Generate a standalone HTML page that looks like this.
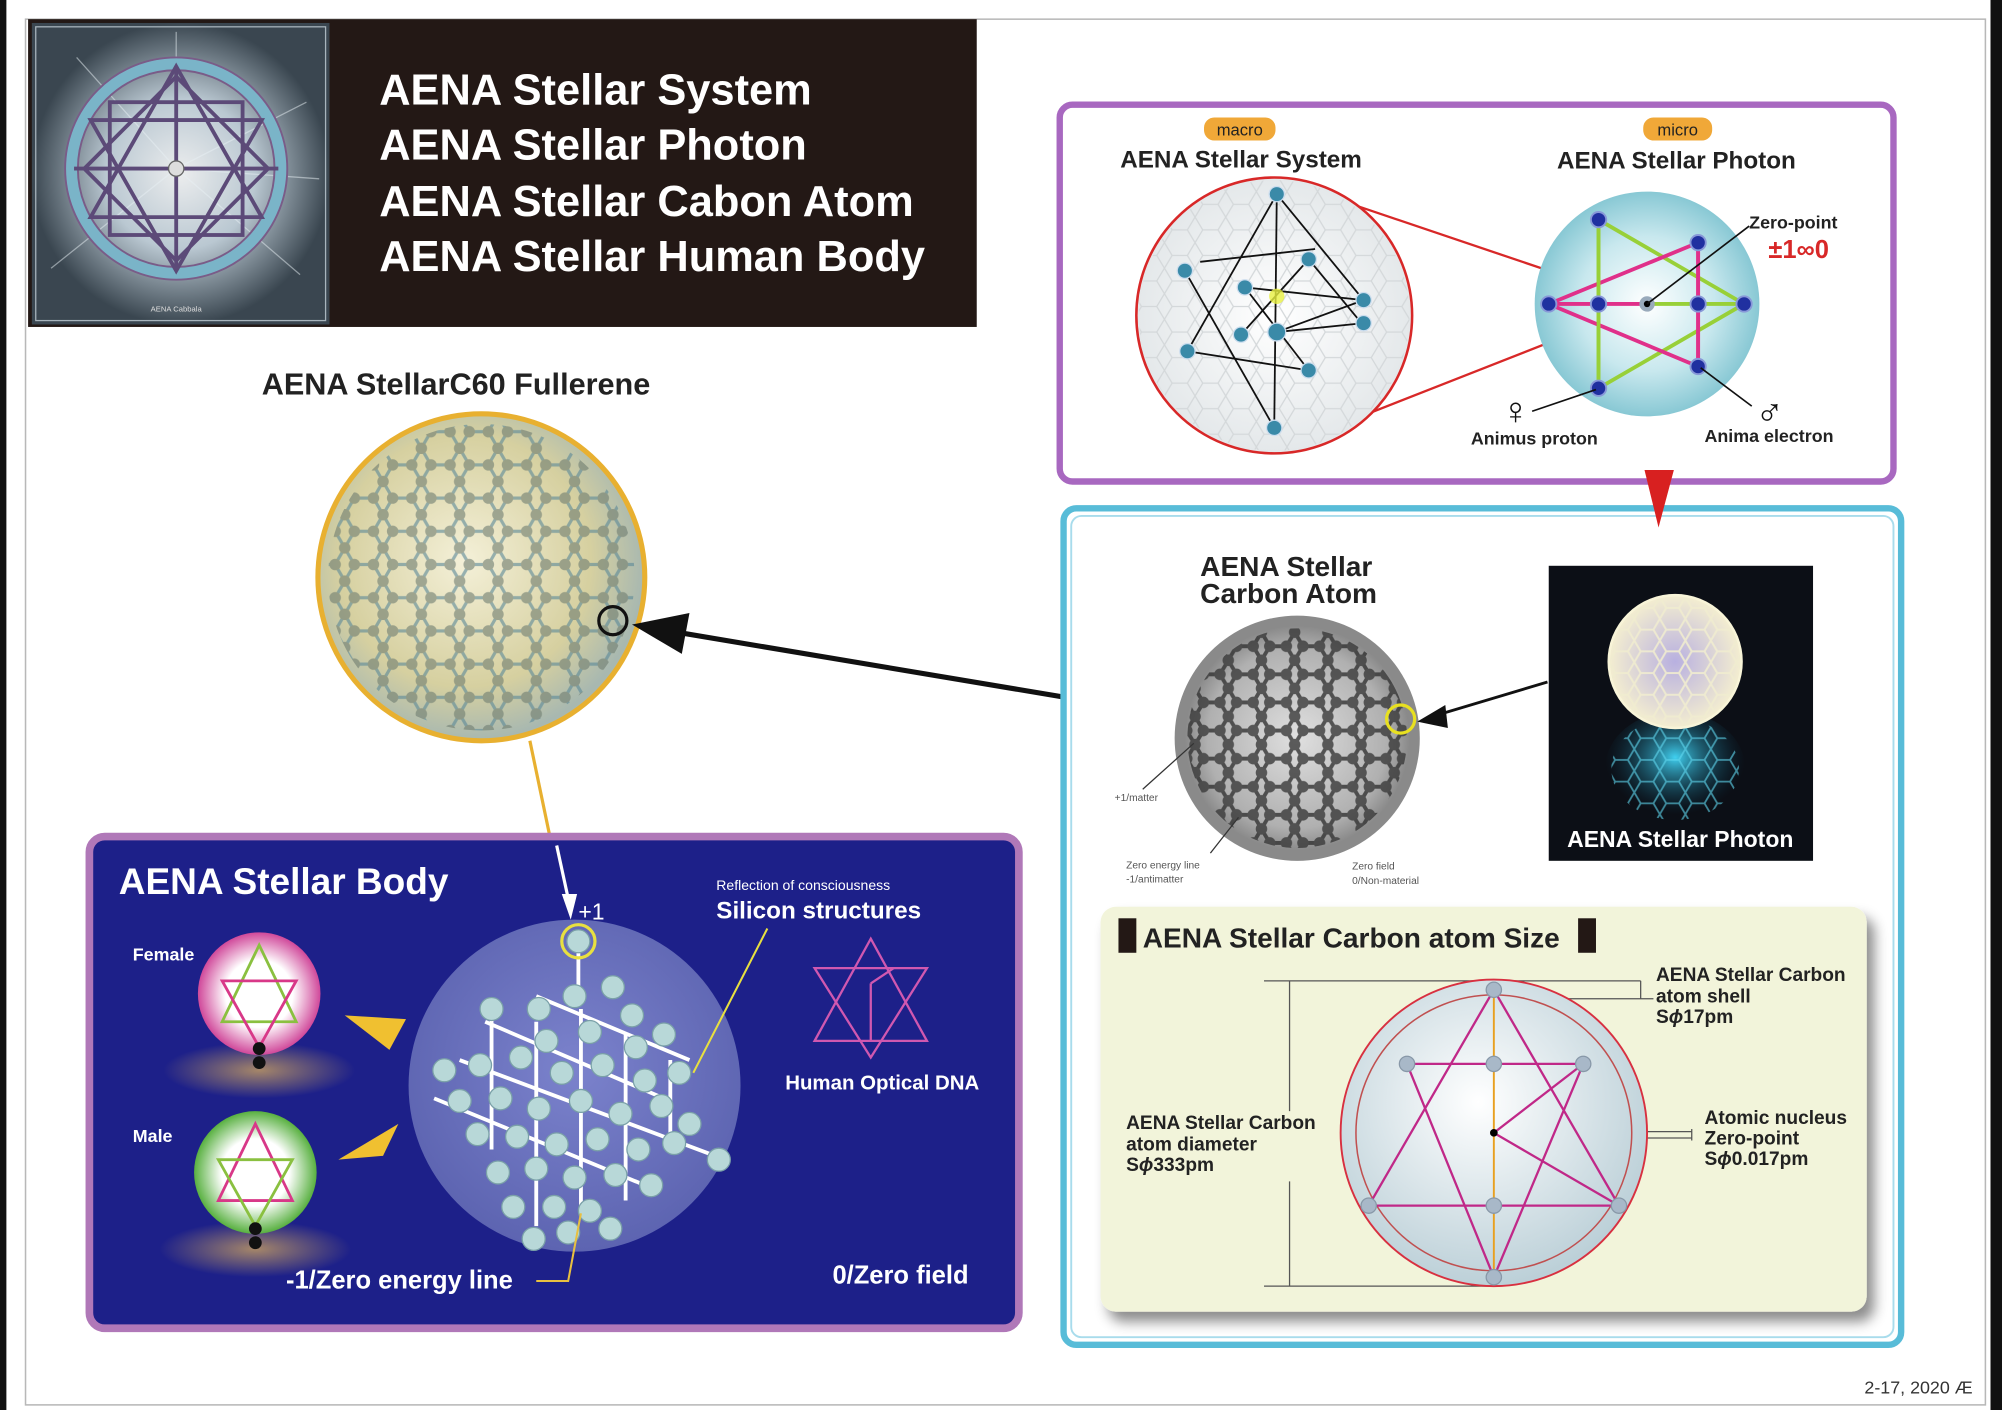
<!DOCTYPE html>
<html><head><meta charset="utf-8"><style>
html,body{margin:0;padding:0;background:#fff;width:2002px;height:1410px;overflow:hidden}
svg{display:block}
text{font-family:"Liberation Sans",sans-serif}
.b{font-weight:bold}
</style></head><body>
<svg width="2002" height="1410" viewBox="0 0 1568 1104" preserveAspectRatio="none" xmlns="http://www.w3.org/2000/svg">
<defs>
<radialGradient id="glow" cx="50%" cy="50%" r="50%"><stop offset="0" stop-color="#ffffff"/><stop offset="0.5" stop-color="#c8d6e0"/><stop offset="1" stop-color="#3a4650"/></radialGradient>
<radialGradient id="full" cx="45%" cy="45%" r="55%"><stop offset="0" stop-color="#f4f0d8"/><stop offset="0.7" stop-color="#d6d0a0"/><stop offset="1" stop-color="#a8b8b0"/></radialGradient>
<radialGradient id="blueSph" cx="50%" cy="45%" r="55%"><stop offset="0" stop-color="#8c94d8"/><stop offset="1" stop-color="#6870b8"/></radialGradient>
<radialGradient id="pink" cx="50%" cy="50%" r="50%"><stop offset="0.55" stop-color="#ffffff"/><stop offset="1" stop-color="#d0489a"/></radialGradient>
<radialGradient id="green" cx="50%" cy="50%" r="50%"><stop offset="0.55" stop-color="#ffffff"/><stop offset="1" stop-color="#58b040"/></radialGradient>
<radialGradient id="shadowG" cx="50%" cy="50%" r="50%"><stop offset="0" stop-color="#c8a060" stop-opacity="0.8"/><stop offset="1" stop-color="#c8a060" stop-opacity="0"/></radialGradient>
<radialGradient id="cyanS" cx="50%" cy="50%" r="50%"><stop offset="0" stop-color="#ffffff"/><stop offset="0.6" stop-color="#c8e8ee"/><stop offset="1" stop-color="#88c8d4"/></radialGradient>
<radialGradient id="sysS" cx="50%" cy="50%" r="50%"><stop offset="0" stop-color="#ffffff"/><stop offset="1" stop-color="#e4e8ea"/></radialGradient>
<radialGradient id="carb" cx="50%" cy="50%" r="50%"><stop offset="0" stop-color="#e0e0e0"/><stop offset="0.8" stop-color="#b0b0b0"/><stop offset="1" stop-color="#8a8a8a"/></radialGradient>
<radialGradient id="sizeS" cx="45%" cy="40%" r="60%"><stop offset="0" stop-color="#ffffff"/><stop offset="1" stop-color="#bcd0d8"/></radialGradient>
<radialGradient id="photoS" cx="50%" cy="50%" r="50%"><stop offset="0" stop-color="#b8b0e0"/><stop offset="1" stop-color="#f4eed0"/></radialGradient>
<radialGradient id="photoR" cx="50%" cy="40%" r="50%"><stop offset="0" stop-color="#40d0f0"/><stop offset="1" stop-color="#0a3a50" stop-opacity="0"/></radialGradient>
<pattern id="hexY" width="30" height="26" patternUnits="userSpaceOnUse">
<path d="M0 13 L7.5 0 L22.5 0 L30 13 L22.5 26 L7.5 26 Z" fill="none" stroke="#5a8898" stroke-width="2.5"/>
<circle cx="7.5" cy="0" r="4.5" fill="#6e7c70"/><circle cx="22.5" cy="0" r="4.5" fill="#6e7c70"/><circle cx="0" cy="13" r="4.5" fill="#6e7c70"/><circle cx="30" cy="13" r="4.5" fill="#6e7c70"/><circle cx="7.5" cy="26" r="4.5" fill="#6e7c70"/><circle cx="22.5" cy="26" r="4.5" fill="#6e7c70"/>
</pattern>
<pattern id="hexK" width="26" height="22" patternUnits="userSpaceOnUse">
<path d="M0 11 L6.5 0 L19.5 0 L26 11 L19.5 22 L6.5 22 Z" fill="none" stroke="#333" stroke-width="3"/>
<circle cx="6.5" cy="0" r="4.5" fill="#3a3a3a"/><circle cx="19.5" cy="0" r="4.5" fill="#3a3a3a"/><circle cx="0" cy="11" r="4.5" fill="#3a3a3a"/><circle cx="26" cy="11" r="4.5" fill="#3a3a3a"/><circle cx="6.5" cy="22" r="4.5" fill="#3a3a3a"/><circle cx="19.5" cy="22" r="4.5" fill="#3a3a3a"/>
</pattern>
<pattern id="hexW" width="20" height="17" patternUnits="userSpaceOnUse">
<path d="M0 8.5 L5 0 L15 0 L20 8.5 L15 17 L5 17 Z" fill="none" stroke="#f0ecd0" stroke-width="1.6"/>
</pattern>
<pattern id="hexC" width="20" height="17" patternUnits="userSpaceOnUse">
<path d="M0 8.5 L5 0 L15 0 L20 8.5 L15 17 L5 17 Z" fill="none" stroke="#60d8f0" stroke-width="1.4"/>
</pattern>
<pattern id="hexG" width="24" height="20" patternUnits="userSpaceOnUse">
<path d="M0 10 L6 0 L18 0 L24 10 L18 20 L6 20 Z" fill="none" stroke="#d4d8da" stroke-width="1"/>
</pattern>
<filter id="sh" x="-10%" y="-10%" width="130%" height="130%"><feDropShadow dx="6" dy="8" stdDeviation="5" flood-color="#000" flood-opacity="0.45"/></filter>
</defs>

<rect x="0" y="0" width="5" height="1104" fill="#111"/>
<rect x="1559" y="0" width="9" height="1104" fill="#111"/>
<rect x="20" y="15" width="1535" height="1085" fill="none" stroke="#b8b8b8" stroke-width="1.2"/>

<!-- top banner -->
<rect x="22" y="15" width="743" height="241" fill="#231815"/>
<rect x="25" y="18" width="233" height="236" fill="#3c4a52"/>
<rect x="25" y="18" width="233" height="236" fill="url(#glow)" opacity="0.9"/>
<rect x="28" y="21" width="227" height="230" fill="none" stroke="#a8b4bc" stroke-width="1"/>
<g stroke="#e8f0f4" stroke-width="1" opacity="0.5">
<line x1="138" y1="132" x2="60" y2="45"/><line x1="138" y1="132" x2="240" y2="80"/><line x1="138" y1="132" x2="40" y2="210"/><line x1="138" y1="132" x2="235" y2="215"/><line x1="138" y1="132" x2="138" y2="25"/><line x1="138" y1="132" x2="250" y2="140"/>
</g>
<circle cx="138" cy="132" r="82" fill="none" stroke="#7ab4c8" stroke-width="9"/>
<circle cx="138" cy="132" r="87" fill="none" stroke="#7a5c88" stroke-width="1.5"/>
<circle cx="138" cy="132" r="77" fill="none" stroke="#7a5c88" stroke-width="1.5"/>
<g stroke="#5c4a78" stroke-width="3" fill="none">
<polygon points="138,52 205,170 71,170"/><polygon points="138,212 205,94 71,94"/>
<rect x="86" y="80" width="104" height="104"/>
<polygon points="138,60 210,132 138,204 66,132"/>
<line x1="138" y1="52" x2="138" y2="212"/><line x1="58" y1="132" x2="218" y2="132"/>
</g>
<circle cx="138" cy="132" r="6" fill="#ddd" stroke="#666"/>
<text x="138" y="244" font-size="6" fill="#ddd" text-anchor="middle" font-family="Liberation Serif">AENA Cabbala</text>
<g fill="#fff" font-size="34" class="b">
<text x="297" y="82">AENA Stellar System</text>
<text x="297" y="125">AENA Stellar Photon</text>
<text x="297" y="169">AENA Stellar Cabon Atom</text>
<text x="297" y="212">AENA Stellar Human Body</text>
</g>

<!-- C60 fullerene -->
<text x="205" y="309" font-size="24" fill="#222" class="b">AENA StellarC60 Fullerene</text>
<circle cx="377" cy="452" r="128" fill="url(#full)"/>
<circle cx="377" cy="452" r="120" fill="url(#hexY)" opacity="0.6"/>
<circle cx="377" cy="452" r="128" fill="none" stroke="#e8b030" stroke-width="4"/>
<circle cx="480" cy="486" r="11" fill="none" stroke="#111" stroke-width="2.5"/>
<line x1="415" y1="580" x2="438" y2="690" stroke="#e8b030" stroke-width="2.5"/>

<line x1="918" y1="560" x2="530" y2="495" stroke="#111" stroke-width="4"/>
<polygon points="495,489 540,480 534,512" fill="#111"/>

<!-- Navy box -->
<rect x="70" y="655" width="728" height="385" rx="12" fill="#1d2089" stroke="#b078b8" stroke-width="6"/>
<text x="93" y="700" font-size="29" fill="#fff" class="b">AENA Stellar Body</text>
<line x1="436" y1="662" x2="446" y2="708" stroke="#fff" stroke-width="2.5"/>
<polygon points="447,720 440,700 452,700" fill="#fff"/>
<text x="453" y="720" font-size="18" fill="#fff">+1</text>
<circle cx="450" cy="850" r="130" fill="url(#blueSph)" opacity="0.85"/>
<g stroke="#fff" stroke-width="3">
<line x1="453" y1="737" x2="453" y2="775"/><line x1="360" y1="830" x2="560" y2="905"/><line x1="340" y1="860" x2="510" y2="930"/><line x1="380" y1="800" x2="520" y2="860"/><line x1="420" y1="780" x2="540" y2="830"/>
<line x1="385" y1="790" x2="385" y2="900"/><line x1="420" y1="800" x2="420" y2="960"/><line x1="455" y1="790" x2="455" y2="950"/><line x1="490" y1="810" x2="490" y2="940"/><line x1="525" y1="830" x2="525" y2="900"/>
</g>
<g fill="#b8d8d8" stroke="#7aa0a8" stroke-width="1">
<circle cx="453" cy="737" r="9"/>
<circle cx="450" cy="780" r="9"/><circle cx="480" cy="773" r="9"/><circle cx="422" cy="790" r="9"/><circle cx="495" cy="795" r="9"/>
<circle cx="385" cy="790" r="9"/><circle cx="428" cy="815" r="9"/><circle cx="462" cy="808" r="9"/><circle cx="498" cy="820" r="9"/><circle cx="520" cy="810" r="9"/>
<circle cx="348" cy="838" r="9"/><circle cx="376" cy="834" r="9"/><circle cx="408" cy="828" r="9"/><circle cx="440" cy="840" r="9"/><circle cx="472" cy="834" r="9"/><circle cx="505" cy="846" r="9"/><circle cx="532" cy="840" r="9"/>
<circle cx="360" cy="862" r="9"/><circle cx="392" cy="860" r="9"/><circle cx="422" cy="868" r="9"/><circle cx="455" cy="862" r="9"/><circle cx="486" cy="872" r="9"/><circle cx="518" cy="866" r="9"/><circle cx="540" cy="880" r="9"/>
<circle cx="374" cy="888" r="9"/><circle cx="405" cy="890" r="9"/><circle cx="436" cy="896" r="9"/><circle cx="468" cy="892" r="9"/><circle cx="500" cy="900" r="9"/><circle cx="528" cy="895" r="9"/><circle cx="563" cy="908" r="9"/>
<circle cx="390" cy="918" r="9"/><circle cx="420" cy="915" r="9"/><circle cx="450" cy="922" r="9"/><circle cx="482" cy="920" r="9"/><circle cx="510" cy="928" r="9"/>
<circle cx="402" cy="945" r="9"/><circle cx="434" cy="945" r="9"/><circle cx="462" cy="948" r="9"/>
<circle cx="418" cy="970" r="9"/><circle cx="445" cy="965" r="9"/><circle cx="478" cy="962" r="9"/>
</g>
<circle cx="453" cy="737" r="13" fill="none" stroke="#e8e040" stroke-width="2.5"/>
<line x1="601" y1="727" x2="543" y2="840" stroke="#e8e040" stroke-width="1.6"/>
<polyline points="455,950 445,1003 420,1003" fill="none" stroke="#e8c040" stroke-width="1.6"/>
<text x="561" y="697" font-size="11" fill="#fff">Reflection of consciousness</text>
<text x="561" y="719" font-size="19" fill="#fff" class="b">Silicon structures</text>
<g fill="none" stroke="#d058b0" stroke-width="1.8">
<polygon points="682,735 726,815 638,815"/><polygon points="682,828 726,758 638,758"/><line x1="682" y1="770" x2="682" y2="815"/><line x1="682" y1="770" x2="700" y2="758"/>
</g>
<text x="615" y="853" font-size="16" fill="#fff" class="b">Human Optical DNA</text>
<text x="224" y="1009" font-size="20" fill="#fff" class="b">-1/Zero energy line</text>
<text x="652" y="1005" font-size="20" fill="#fff" class="b">0/Zero field</text>
<text x="104" y="752" font-size="14" fill="#fff" class="b">Female</text>
<text x="104" y="894" font-size="14" fill="#fff" class="b">Male</text>
<ellipse cx="203" cy="838" rx="75" ry="22" fill="url(#shadowG)"/>
<ellipse cx="200" cy="978" rx="75" ry="22" fill="url(#shadowG)"/>
<circle cx="203" cy="778" r="48" fill="url(#pink)"/>
<circle cx="200" cy="918" r="48" fill="url(#green)"/>
<g fill="none" stroke-width="2.2">
<polygon points="203,740 232,800 174,800" stroke="#8ac040"/><polygon points="203,820 232,768 174,768" stroke="#d83888"/>
<polygon points="200,880 229,940 171,940" stroke="#d83888"/><polygon points="200,960 229,908 171,908" stroke="#8ac040"/>
</g>
<circle cx="203" cy="821" r="5" fill="#111"/><circle cx="203" cy="832" r="5" fill="#111"/>
<circle cx="200" cy="962" r="5" fill="#111"/><circle cx="200" cy="973" r="5" fill="#111"/>
<polygon points="270,795 318,798 305,822" fill="#f0c030"/>
<polygon points="265,908 312,880 300,905" fill="#f0c030"/>

<!-- purple box -->
<rect x="830" y="82" width="653" height="295" rx="10" fill="#fff" stroke="#a868c0" stroke-width="5"/>
<rect x="943" y="92" width="56" height="18" rx="8" fill="#f0a838"/>
<text x="971" y="106" font-size="13" fill="#222" text-anchor="middle">macro</text>
<rect x="1287" y="92" width="54" height="18" rx="8" fill="#f0a838"/>
<text x="1314" y="106" font-size="13" fill="#222" text-anchor="middle">micro</text>
<text x="972" y="131" font-size="19" fill="#222" text-anchor="middle" class="b">AENA Stellar System</text>
<text x="1313" y="132" font-size="19" fill="#222" text-anchor="middle" class="b">AENA Stellar Photon</text>
<line x1="1000" y1="140" x2="1290" y2="238" stroke="#d82828" stroke-width="1.8"/>
<line x1="1000" y1="352" x2="1290" y2="238" stroke="#d82828" stroke-width="1.8"/>
<circle cx="998" cy="247" r="108" fill="url(#sysS)"/>
<circle cx="998" cy="247" r="106" fill="url(#hexG)"/>
<circle cx="998" cy="247" r="108" fill="none" stroke="#d82828" stroke-width="2"/>
<g stroke="#111" stroke-width="1.4" fill="none">
<line x1="1000" y1="152" x2="930" y2="275"/><line x1="1000" y1="152" x2="998" y2="335"/><line x1="1000" y1="152" x2="1068" y2="235"/>
<line x1="928" y1="212" x2="998" y2="335"/><line x1="1025" y1="203" x2="972" y2="262"/><line x1="1025" y1="203" x2="1068" y2="255"/>
<line x1="975" y1="225" x2="1068" y2="235"/><line x1="1000" y1="260" x2="1068" y2="235"/><line x1="1000" y1="260" x2="1068" y2="253"/>
<line x1="930" y1="275" x2="1025" y2="290"/><line x1="975" y1="225" x2="1025" y2="290"/><line x1="940" y1="205" x2="1030" y2="195"/>
</g>
<g fill="#3a8aa8" stroke="#cde" stroke-width="1">
<circle cx="1000" cy="152" r="6"/><circle cx="928" cy="212" r="6"/><circle cx="1025" cy="203" r="6"/><circle cx="975" cy="225" r="6"/><circle cx="1068" cy="235" r="6"/><circle cx="1068" cy="253" r="6"/><circle cx="972" cy="262" r="6"/><circle cx="1000" cy="260" r="7"/><circle cx="930" cy="275" r="6"/><circle cx="1025" cy="290" r="6"/><circle cx="998" cy="335" r="6"/>
</g>
<circle cx="1000" cy="232" r="6" fill="#e8f040" opacity="0.8"/>
<circle cx="1290" cy="238" r="88" fill="url(#cyanS)"/>
<g fill="none" stroke-width="3">
<polygon points="1252,172 1366,238 1252,304" stroke="#98d038"/>
<polygon points="1330,190 1213,238 1330,287" stroke="#e0308a"/>
<line x1="1252" y1="172" x2="1252" y2="304" stroke="#98d038"/>
<line x1="1213" y1="238" x2="1290" y2="238" stroke="#e0308a"/>
<line x1="1290" y1="238" x2="1366" y2="238" stroke="#98d038"/>
<line x1="1330" y1="190" x2="1330" y2="287" stroke="#e0308a"/>
</g>
<g fill="#2030a0" stroke="#8898d8" stroke-width="1.5">
<circle cx="1252" cy="172" r="6"/><circle cx="1330" cy="190" r="6"/><circle cx="1213" cy="238" r="6"/><circle cx="1252" cy="238" r="6"/><circle cx="1330" cy="238" r="6"/><circle cx="1366" cy="238" r="6"/><circle cx="1330" cy="287" r="6"/><circle cx="1252" cy="304" r="6"/>
</g>
<circle cx="1290" cy="238" r="6" fill="#9ab"/><circle cx="1290" cy="238" r="2.5" fill="#000"/>
<line x1="1290" y1="238" x2="1370" y2="177" stroke="#111" stroke-width="1.3"/>
<text x="1370" y="179" font-size="14" fill="#222" class="b">Zero-point</text>
<text x="1385" y="202" font-size="20" fill="#d82828" class="b">±1∞0</text>
<line x1="1250" y1="305" x2="1200" y2="322" stroke="#111" stroke-width="1.3"/>
<line x1="1332" y1="288" x2="1372" y2="318" stroke="#111" stroke-width="1.3"/>
<text x="1187" y="332" font-size="30" fill="#111" text-anchor="middle" class="b">♀</text>
<text x="1386" y="332" font-size="30" fill="#111" text-anchor="middle" class="b">♂</text>
<text x="1152" y="348" font-size="14" fill="#222" class="b">Animus proton</text>
<text x="1335" y="346" font-size="14" fill="#222" class="b">Anima electron</text>

<!-- cyan box -->
<rect x="833" y="398" width="656" height="655" rx="10" fill="#fff" stroke="#58bcd8" stroke-width="5"/>
<rect x="839" y="404" width="644" height="643" rx="8" fill="none" stroke="#a8dcec" stroke-width="1.5"/>
<polygon points="1288,368 1311,368 1299,413" fill="#d82020"/>
<text x="940" y="451" font-size="22" fill="#222" class="b">AENA Stellar</text>
<text x="940" y="472" font-size="22" fill="#222" class="b">Carbon Atom</text>
<circle cx="1016" cy="578" r="96" fill="#8a8a8a"/>
<circle cx="1016" cy="578" r="88" fill="url(#carb)"/>
<circle cx="1016" cy="578" r="86" fill="url(#hexK)" opacity="0.8"/>
<circle cx="1097" cy="563" r="11" fill="none" stroke="#e8e020" stroke-width="2.5"/>
<line x1="1212" y1="534" x2="1125" y2="560" stroke="#111" stroke-width="2.2"/>
<polygon points="1110,565 1132,552 1134,570" fill="#111"/>
<line x1="895" y1="618" x2="935" y2="582" stroke="#333" stroke-width="1"/>
<line x1="948" y1="668" x2="970" y2="640" stroke="#333" stroke-width="1"/>
<text x="873" y="627" font-size="8" fill="#555">+1/matter</text>
<text x="882" y="680" font-size="8" fill="#555">Zero energy line</text>
<text x="882" y="691" font-size="8" fill="#555">-1/antimatter</text>
<text x="1059" y="681" font-size="8" fill="#555">Zero field</text>
<text x="1059" y="692" font-size="8" fill="#555">0/Non-material</text>
<rect x="1213" y="443" width="207" height="231" fill="#0c0f16"/>
<ellipse cx="1312" cy="602" rx="55" ry="45" fill="url(#photoR)"/>
<ellipse cx="1312" cy="602" rx="50" ry="40" fill="url(#hexC)" opacity="0.6"/>
<circle cx="1312" cy="518" r="52" fill="url(#photoS)"/>
<circle cx="1312" cy="518" r="52" fill="url(#hexW)" opacity="0.9"/>
<circle cx="1312" cy="518" r="52" fill="none" stroke="#f8f4d8" stroke-width="2"/>
<text x="1316" y="663" font-size="18" fill="#fff" text-anchor="middle" class="b">AENA Stellar Photon</text>

<!-- size panel -->
<rect x="862" y="710" width="600" height="317" rx="12" fill="#f2f4da" filter="url(#sh)"/>
<rect x="876" y="719" width="14" height="27" fill="#231815"/>
<text x="895" y="742" font-size="22" fill="#222" class="b">AENA Stellar Carbon atom Size</text>
<rect x="1236" y="719" width="14" height="27" fill="#231815"/>
<g stroke="#555" stroke-width="1" fill="none">
<line x1="990" y1="768" x2="1285" y2="768"/><line x1="990" y1="1007" x2="1175" y2="1007"/><line x1="1010" y1="768" x2="1010" y2="870"/><line x1="1010" y1="925" x2="1010" y2="1007"/>
<line x1="1285" y1="768" x2="1285" y2="782"/><line x1="1175" y1="782" x2="1295" y2="782"/>
<line x1="1172" y1="886" x2="1325" y2="886"/><line x1="1172" y1="891" x2="1325" y2="891"/><line x1="1325" y1="884" x2="1325" y2="893"/>
</g>
<circle cx="1170" cy="887" r="120" fill="url(#sizeS)" stroke="#d83040" stroke-width="1.5"/>
<circle cx="1170" cy="887" r="108" fill="none" stroke="#c05050" stroke-width="1.2"/>
<line x1="1170" y1="775" x2="1170" y2="1000" stroke="#e8a020" stroke-width="1.5"/>
<g fill="none" stroke="#c02888" stroke-width="1.8">
<polygon points="1170,775 1268,944 1072,944"/><polygon points="1170,1000 1240,833 1102,833"/>
<polyline points="1240,833 1170,887 1268,944"/>
</g>
<g fill="#a8b8c8" stroke="#8898a8" stroke-width="1">
<circle cx="1170" cy="775" r="6"/><circle cx="1102" cy="833" r="6"/><circle cx="1170" cy="833" r="6"/><circle cx="1240" cy="833" r="6"/><circle cx="1072" cy="944" r="6"/><circle cx="1170" cy="944" r="6"/><circle cx="1268" cy="944" r="6"/><circle cx="1170" cy="1000" r="6"/>
</g>
<circle cx="1170" cy="887" r="3" fill="#000"/>
<g font-size="15" fill="#222" class="b">
<text x="1297" y="768">AENA Stellar Carbon</text><text x="1297" y="785">atom shell</text><text x="1297" y="801">S<tspan font-style="italic">ϕ</tspan>17pm</text>
<text x="882" y="884">AENA Stellar Carbon</text><text x="882" y="901">atom diameter</text><text x="882" y="917">S<tspan font-style="italic">ϕ</tspan>333pm</text>
<text x="1335" y="880">Atomic nucleus</text><text x="1335" y="896">Zero-point</text><text x="1335" y="912">S<tspan font-style="italic">ϕ</tspan>0.017pm</text>
</g>
<text x="1545" y="1091" font-size="14" fill="#333" text-anchor="end">2-17, 2020 Æ</text>
</svg>
</body></html>
